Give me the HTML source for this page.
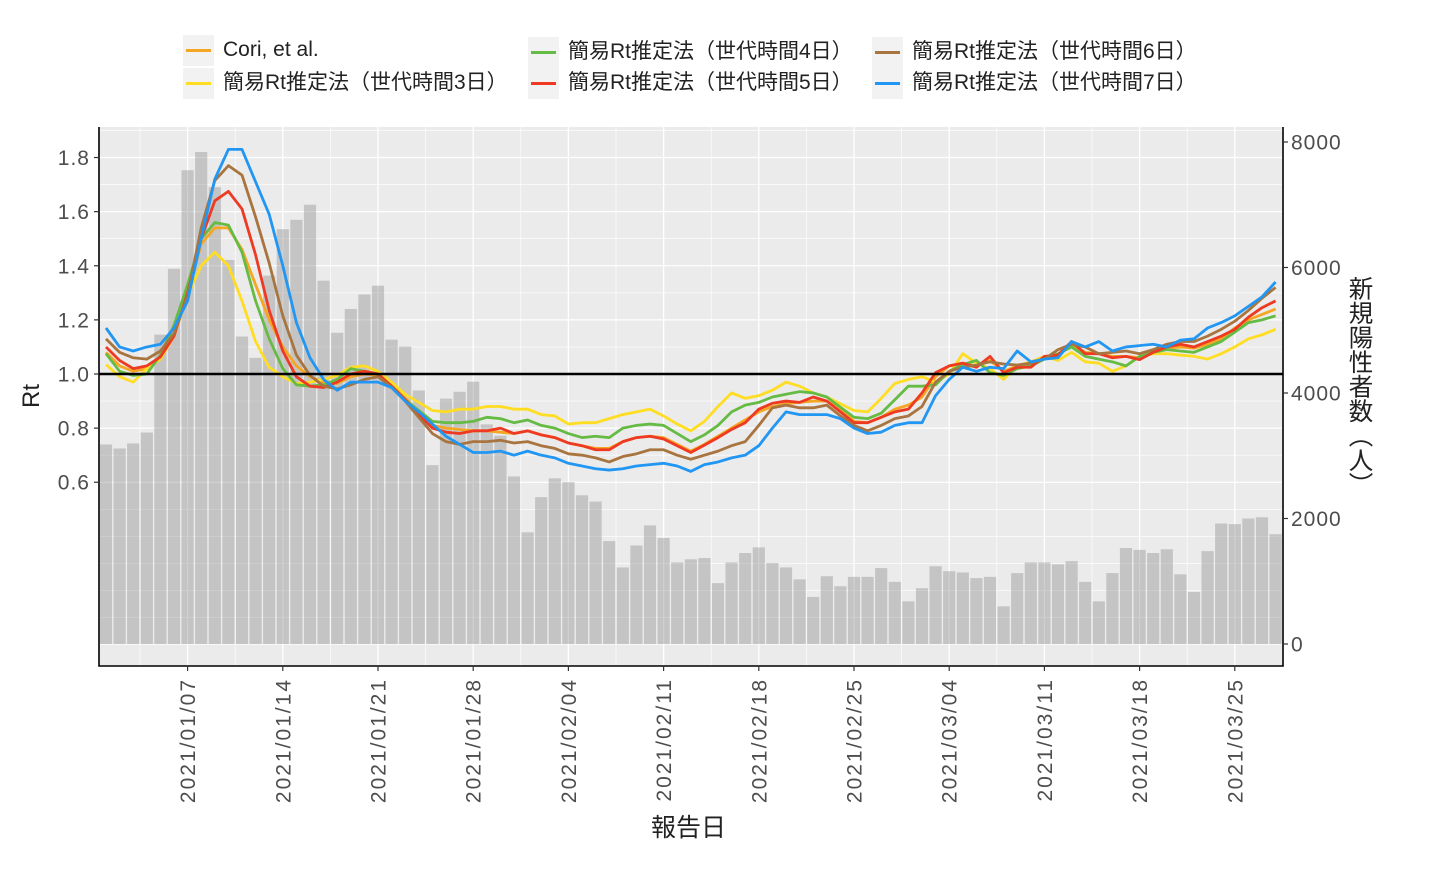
<!DOCTYPE html>
<html><head><meta charset="utf-8"><style>
body{margin:0;background:#fff;}
svg{display:block;font-family:"Liberation Sans","Noto Sans CJK JP",sans-serif;}
</style></head><body>
<svg id="chart" width="1430" height="870"></svg>
<script>
const counts=[3180,3116,3196,3370,4930,5980,7550,7840,7280,6120,4900,4560,5870,6610,6760,7000,5790,4960,5340,5570,5710,4850,4740,4040,2850,3910,4020,4180,3500,3320,2670,1780,2340,2640,2580,2370,2270,1640,1220,1570,1890,1690,1300,1350,1370,970,1300,1450,1540,1290,1220,1030,750,1080,920,1070,1070,1210,990,680,890,1240,1160,1140,1050,1070,600,1130,1300,1300,1270,1320,990,680,1130,1530,1500,1450,1510,1110,830,1480,1920,1910,2000,2020,1750];
const cori=[1.08,1.03,1.01,1.02,1.06,1.14,1.30,1.48,1.54,1.54,1.46,1.33,1.20,1.10,1.03,0.99,0.97,0.965,0.99,1.0,0.995,0.96,0.91,0.86,0.81,0.80,0.795,0.79,0.79,0.785,0.78,0.79,0.775,0.765,0.745,0.735,0.725,0.725,0.75,0.765,0.77,0.765,0.74,0.715,0.74,0.77,0.80,0.83,0.86,0.88,0.89,0.895,0.90,0.90,0.87,0.825,0.82,0.84,0.87,0.885,0.915,0.99,1.03,1.04,1.03,1.05,1.01,1.03,1.03,1.06,1.07,1.11,1.08,1.075,1.065,1.065,1.06,1.08,1.095,1.10,1.095,1.11,1.13,1.17,1.20,1.22,1.24];
const gen3=[1.035,0.99,0.97,1.02,1.055,1.14,1.29,1.40,1.45,1.40,1.27,1.12,1.025,0.99,0.965,0.97,0.98,0.995,1.025,1.03,1.01,0.97,0.925,0.895,0.865,0.86,0.87,0.87,0.88,0.88,0.87,0.87,0.85,0.845,0.815,0.82,0.82,0.835,0.85,0.86,0.87,0.845,0.815,0.79,0.825,0.88,0.93,0.91,0.92,0.94,0.97,0.955,0.93,0.915,0.89,0.865,0.86,0.91,0.965,0.98,0.99,0.97,1.0,1.075,1.04,1.02,0.98,1.03,1.045,1.065,1.05,1.08,1.045,1.04,1.01,1.03,1.065,1.075,1.075,1.07,1.065,1.055,1.075,1.10,1.13,1.145,1.165];
const gen4=[1.075,1.01,0.995,1.0,1.07,1.18,1.33,1.50,1.56,1.55,1.45,1.27,1.13,1.02,0.96,0.955,0.96,0.98,1.02,1.01,1.0,0.955,0.905,0.865,0.825,0.82,0.82,0.825,0.84,0.835,0.82,0.83,0.81,0.80,0.78,0.765,0.77,0.765,0.80,0.81,0.815,0.81,0.78,0.75,0.775,0.81,0.86,0.885,0.895,0.915,0.925,0.935,0.93,0.915,0.877,0.84,0.835,0.855,0.905,0.955,0.955,0.96,1.01,1.035,1.05,1.005,0.995,1.02,1.03,1.055,1.075,1.10,1.065,1.055,1.045,1.03,1.065,1.08,1.09,1.085,1.08,1.10,1.12,1.155,1.19,1.20,1.215];
const gen5=[1.10,1.05,1.02,1.03,1.063,1.14,1.30,1.50,1.64,1.675,1.61,1.44,1.235,1.085,0.99,0.955,0.95,0.97,1.0,1.01,1.0,0.955,0.905,0.85,0.80,0.785,0.78,0.79,0.79,0.80,0.78,0.79,0.775,0.765,0.745,0.735,0.72,0.72,0.75,0.765,0.77,0.76,0.735,0.71,0.737,0.765,0.795,0.82,0.87,0.892,0.90,0.895,0.915,0.90,0.86,0.82,0.82,0.84,0.86,0.87,0.93,1.005,1.03,1.04,1.025,1.065,1.005,1.025,1.025,1.065,1.07,1.12,1.075,1.075,1.06,1.065,1.053,1.08,1.10,1.11,1.10,1.12,1.14,1.165,1.21,1.245,1.27];
const gen6=[1.13,1.08,1.06,1.055,1.085,1.15,1.29,1.54,1.715,1.77,1.735,1.58,1.41,1.215,1.07,0.995,0.955,0.945,0.96,0.98,0.99,0.95,0.90,0.84,0.78,0.75,0.74,0.75,0.75,0.755,0.745,0.75,0.735,0.725,0.705,0.70,0.69,0.675,0.695,0.705,0.72,0.72,0.70,0.685,0.70,0.715,0.735,0.75,0.81,0.875,0.885,0.875,0.875,0.885,0.845,0.81,0.79,0.81,0.835,0.845,0.88,0.97,1.01,1.025,1.033,1.045,1.037,1.033,1.04,1.055,1.09,1.11,1.10,1.075,1.08,1.085,1.075,1.09,1.11,1.12,1.12,1.14,1.165,1.195,1.235,1.28,1.32];
const gen7=[1.17,1.10,1.085,1.10,1.11,1.17,1.27,1.50,1.72,1.83,1.83,1.71,1.59,1.40,1.19,1.06,0.98,0.94,0.97,0.97,0.97,0.95,0.90,0.86,0.815,0.77,0.74,0.71,0.71,0.715,0.70,0.715,0.70,0.69,0.67,0.66,0.65,0.645,0.65,0.66,0.665,0.67,0.66,0.64,0.665,0.675,0.69,0.70,0.735,0.80,0.86,0.85,0.85,0.85,0.835,0.80,0.78,0.785,0.81,0.82,0.82,0.92,0.98,1.025,1.01,1.025,1.02,1.085,1.045,1.055,1.06,1.12,1.10,1.12,1.085,1.10,1.105,1.11,1.10,1.125,1.13,1.17,1.19,1.215,1.25,1.285,1.34];
const rtTicks=[0.6,0.8,1.0,1.2,1.4,1.6,1.8];
const rtTickLabels=["0.6","0.8","1.0","1.2","1.4","1.6","1.8"];
const countTicks=[0,2000,4000,6000,8000];
const dateTickIdx=[6,13,20,27,34,41,48,55,62,69,76,83];
const dateTickLabels=["2021/01/07","2021/01/14","2021/01/21","2021/01/28","2021/02/04","2021/02/11","2021/02/18","2021/02/25","2021/03/04","2021/03/11","2021/03/18","2021/03/25"];

const NS="http://www.w3.org/2000/svg";
const svg=document.getElementById('chart');
const L=99,R=1283,T=127,B=666;
const step=13.6, x0=106;
const xs=i=>x0+step*i;
const yr=v=>374-(v-1)*270.6;
const yc=v=>644-v*502/8000;
function mk(tag,attrs,parent){const e=document.createElementNS(NS,tag);for(const k in attrs)e.setAttribute(k,attrs[k]);(parent||svg).appendChild(e);return e;}

const bg=mk('rect',{x:L,y:T,width:R-L,height:B-T,fill:'#ebebeb'});


const grid=mk('g',{});


for(let v=-0.1;v<=1.95;v+=0.1){const vv=Math.round(v*10)/10;const y=yr(vv);if(y<T||y>B)continue;const major=Math.round(vv*10)%2===0&&vv>=0.6;mk('line',{x1:L,x2:R,y1:y,y2:y,stroke:'#fff','stroke-width':major?1.3:0.6},grid);}
for(let k=0;k<dateTickIdx.length;k++){const x=xs(dateTickIdx[k]);mk('line',{x1:x,x2:x,y1:T,y2:B,stroke:'#fff','stroke-width':1.3},grid);}
for(let k=-1;k<dateTickIdx.length;k++){const x=xs(dateTickIdx[0]+7*k+3.5);if(x<L||x>R)continue;mk('line',{x1:x,x2:x,y1:T,y2:B,stroke:'#fff','stroke-width':0.6},grid);}
const bars=mk('g',{});


counts.forEach((c,i)=>{const b=mk('rect',{x:xs(i)-6.1,y:yc(c),width:12.2,height:yc(0)-yc(c),fill:'#8a8a8a','fill-opacity':0.4},bars);

});
const series=[['cori',cori,'#F5A623'],['gen3',gen3,'#FFDD22'],['gen4',gen4,'#66BB44'],['gen5',gen5,'#EE3A22'],['gen6',gen6,'#A8743F'],['gen7',gen7,'#2196F3']];
series.forEach(s=>{const p=mk('polyline',{points:s[1].map((v,i)=>xs(i)+','+yr(v)).join(' '),fill:'none',stroke:s[2],'stroke-width':2.8,'stroke-linejoin':'round'});

});
const h=mk('line',{x1:L,x2:R,y1:yr(1),y2:yr(1),stroke:'#000','stroke-width':2.6});


const ax=mk('path',{d:`M${L},${T}V${B}H${R}V${T}`,fill:'none',stroke:'#000','stroke-width':1.6});


rtTicks.forEach((v,k)=>{const y=yr(v);mk('line',{x1:L-5,x2:L,y1:y,y2:y,stroke:'#333','stroke-width':1.2});
const t=mk('text',{x:L-9,y:y+7.5,'text-anchor':'end','font-size':21,'letter-spacing':1,fill:'#4d4d4d'});t.textContent=rtTickLabels[k];

});
countTicks.forEach(v=>{const y=yc(v);mk('line',{x1:R,x2:R+5,y1:y,y2:y,stroke:'#333','stroke-width':1.2});
const t=mk('text',{x:R+8,y:y+7.5,'font-size':21,'letter-spacing':1,fill:'#4d4d4d'});t.textContent=String(v);

});
dateTickIdx.forEach((d,k)=>{const x=xs(d);mk('line',{x1:x,x2:x,y1:B,y2:B+5,stroke:'#333','stroke-width':1.2});
const t=mk('text',{x:0,y:0,'text-anchor':'end','font-size':21,'letter-spacing':2,fill:'#4d4d4d',transform:`translate(${x+7.5},${B+12}) rotate(-90)`});t.textContent=dateTickLabels[k];

});
</script>
<div style="position:absolute;left:0;top:0;width:1430px;height:870px;pointer-events:none;font-family:'Liberation Sans','Noto Sans CJK JP',sans-serif;">
<div style="position:absolute;left:651px;top:808px;font-size:25px;color:#222;">報告日</div>
<div style="position:absolute;left:20px;top:382px;font-size:24px;color:#222;transform:rotate(-90deg);transform-origin:center;">Rt</div>
<div style="position:absolute;left:1346px;top:276px;font-size:24.5px;line-height:1;color:#222;writing-mode:vertical-rl;">新規陽性者数（人）</div>
<div style="position:absolute;left:183px;top:35px;font-size:21px;color:#222;">
 <div style="position:absolute;left:0;top:0;white-space:nowrap;"><span style="display:inline-block;width:31px;height:31px;background:#f2f2f2;position:relative;vertical-align:middle;margin-right:9px;"><span style="position:absolute;left:3px;right:3px;top:14px;height:3px;background:#F5A623"></span></span>Cori, et al.</div>
 <div style="position:absolute;left:0;top:31px;white-space:nowrap;"><span style="display:inline-block;width:31px;height:31px;background:#f2f2f2;position:relative;vertical-align:middle;margin-right:9px;"><span style="position:absolute;left:3px;right:3px;top:14px;height:3px;background:#FFDD22"></span></span>簡易Rt推定法（世代時間3日）</div>
 <div style="position:absolute;left:345px;top:0;white-space:nowrap;"><span style="display:inline-block;width:31px;height:31px;background:#f2f2f2;position:relative;vertical-align:middle;margin-right:9px;"><span style="position:absolute;left:3px;right:3px;top:14px;height:3px;background:#66BB44"></span></span>簡易Rt推定法（世代時間4日）</div>
 <div style="position:absolute;left:345px;top:31px;white-space:nowrap;"><span style="display:inline-block;width:31px;height:31px;background:#f2f2f2;position:relative;vertical-align:middle;margin-right:9px;"><span style="position:absolute;left:3px;right:3px;top:14px;height:3px;background:#EE3A22"></span></span>簡易Rt推定法（世代時間5日）</div>
 <div style="position:absolute;left:689px;top:0;white-space:nowrap;"><span style="display:inline-block;width:31px;height:31px;background:#f2f2f2;position:relative;vertical-align:middle;margin-right:9px;"><span style="position:absolute;left:3px;right:3px;top:14px;height:3px;background:#A8743F"></span></span>簡易Rt推定法（世代時間6日）</div>
 <div style="position:absolute;left:689px;top:31px;white-space:nowrap;"><span style="display:inline-block;width:31px;height:31px;background:#f2f2f2;position:relative;vertical-align:middle;margin-right:9px;"><span style="position:absolute;left:3px;right:3px;top:14px;height:3px;background:#2196F3"></span></span>簡易Rt推定法（世代時間7日）</div>
</div>
</div>
</body></html>
